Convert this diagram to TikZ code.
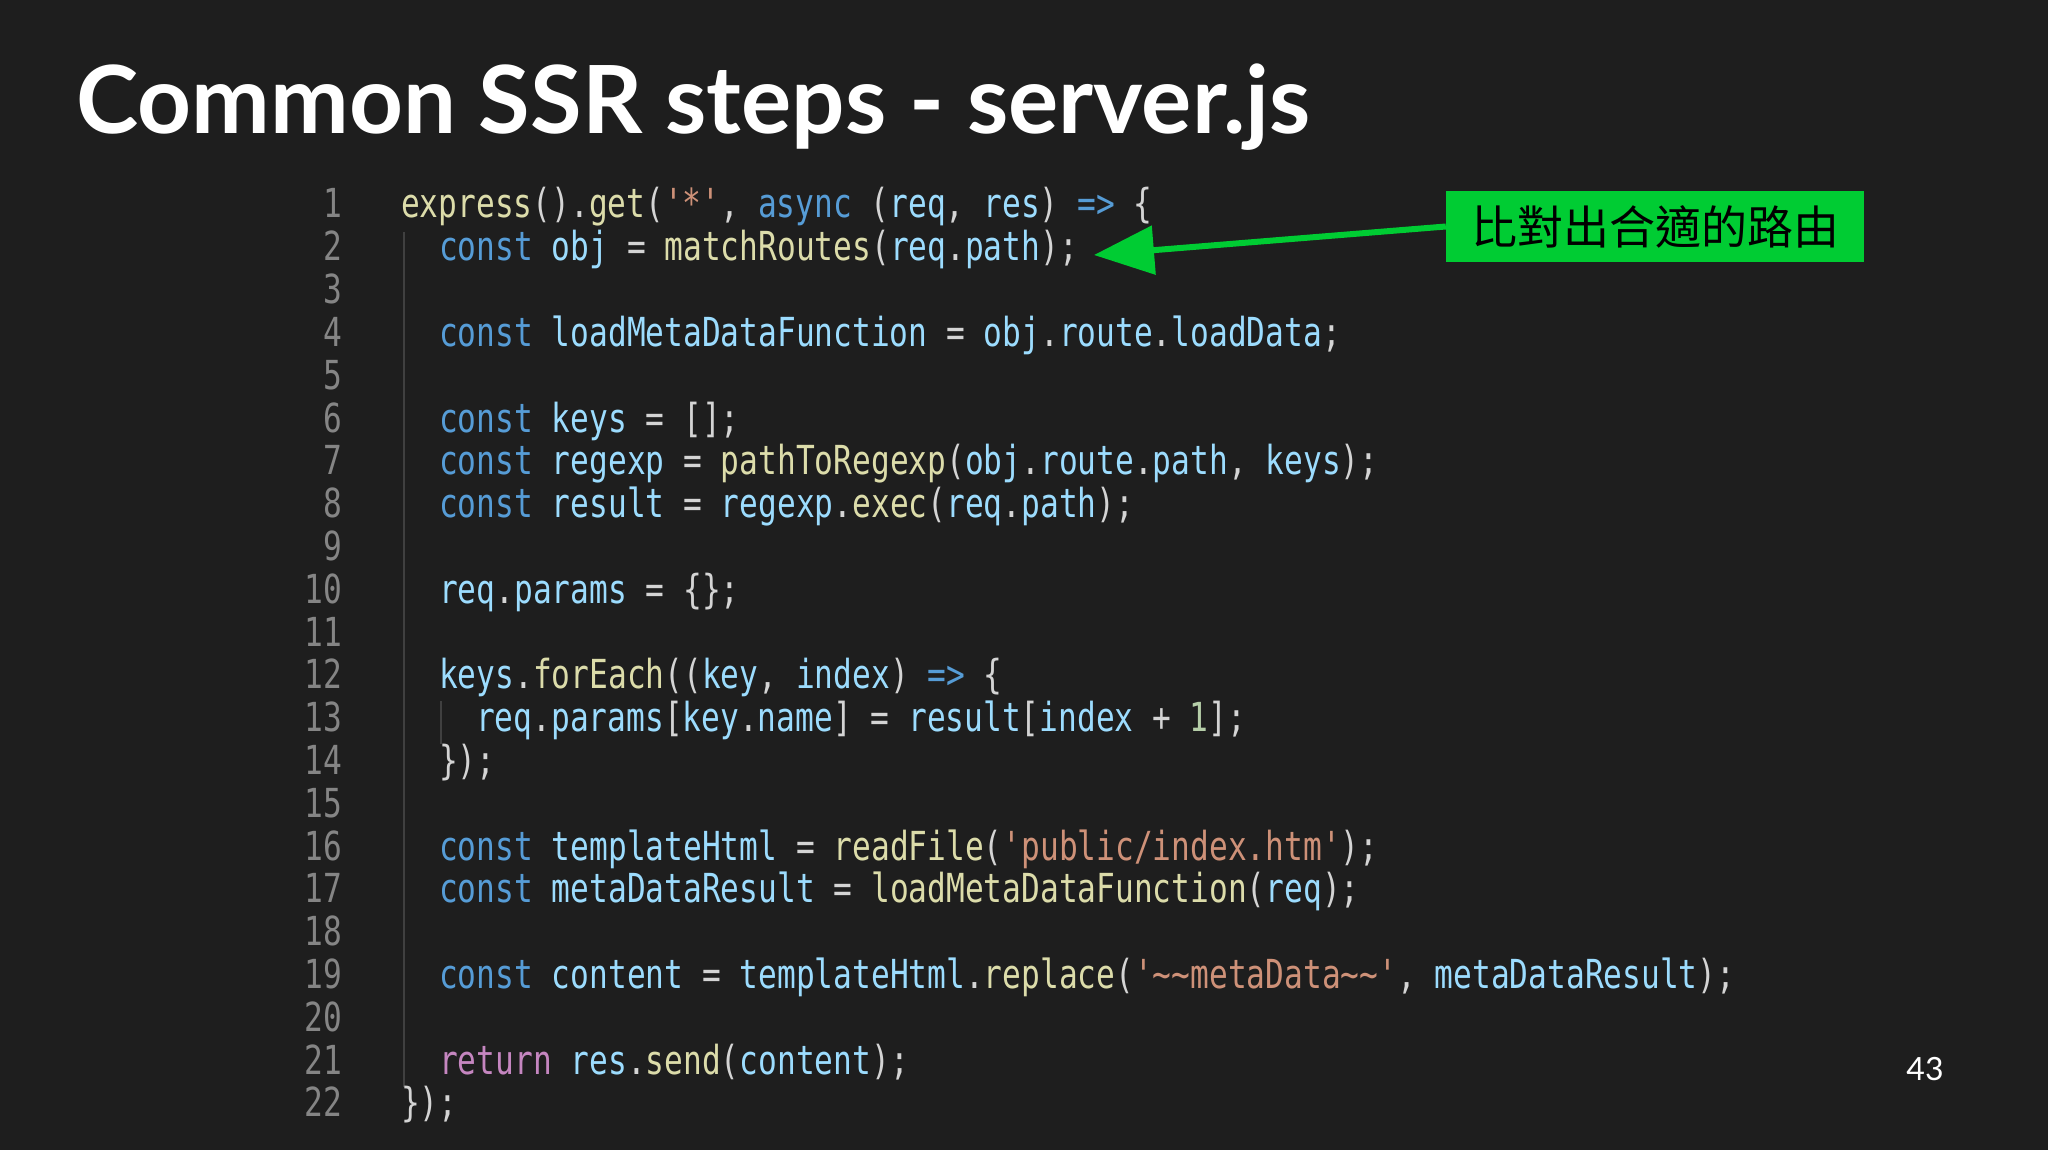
\documentclass[tikz,border=0pt]{standalone}
\usepackage{fontspec}
\usetikzlibrary{arrows.meta}
\setmainfont{Lato}
\newfontfamily\codefont[FakeStretch=0.78]{DejaVu Sans Mono}
\newfontfamily\cjk{Noto Sans CJK TC}
\definecolor{bg}{HTML}{1E1E1E}
\definecolor{cplain}{HTML}{D4D4D4}
\definecolor{ckw}{HTML}{569CD6}
\definecolor{cvar}{HTML}{9CDCFE}
\definecolor{cfn}{HTML}{DCDCAA}
\definecolor{cstr}{HTML}{CE9178}
\definecolor{cret}{HTML}{C586C0}
\definecolor{cnum}{HTML}{B5CEA8}
\definecolor{clno}{HTML}{858585}
\definecolor{cguide}{HTML}{404040}
\definecolor{cgreen}{HTML}{00CC33}
\newcommand\K[1]{\textcolor{ckw}{#1}}
\newcommand\V[1]{\textcolor{cvar}{#1}}
\newcommand\F[1]{\textcolor{cfn}{#1}}
\newcommand\Str[1]{\textcolor{cstr}{#1}}
\newcommand\R[1]{\textcolor{cret}{#1}}
\newcommand\Nm[1]{\textcolor{cnum}{#1}}
\newcommand\tl{\textasciitilde}
\tikzset{
  x=1pt,y=-1pt,
  code/.style={anchor=base west,inner sep=0pt,font=\codefont\fontsize{40}{40}\selectfont,text=cplain},
  lno/.style={anchor=base east,inner sep=0pt,font=\codefont\fontsize{40}{40}\selectfont,text=clno},
  guide/.style={draw=cguide,line width=1.2pt},
}
\begin{document}
\begin{tikzpicture}
\fill[bg] (0,0) rectangle (2048,1150);
\useasboundingbox (0,0) rectangle (2048,1150);
\node[anchor=base west,inner sep=0pt,text=white,font=\bfseries\fontsize{94}{94}\selectfont] (title) at (76,134) {Common SSR steps - server.js};
% indent guides
\draw[guide] (404,232) -- (404,1087);
\draw[guide] (441,701) -- (441,744);
% line numbers
\foreach \i in {1,...,22} {
  \node[lno] (n\i) at (342,{218+(\i-1)*42.8}) {\i};
}
\def\xa{401}\def\xb{439}\def\xc{476}
\node[code] (l1) at (\xa,218) {\F{express}().\F{get}(\Str{'*'}, \K{async} (\V{req}, \V{res}) \K{=>} \{};
\node[code] (l2) at (\xb,260.8) {\K{const} \V{obj} = \F{matchRoutes}(\V{req}.\V{path});};
\node[code] (l4) at (\xb,346.4) {\K{const} \V{loadMetaDataFunction} = \V{obj}.\V{route}.\V{loadData};};
\node[code] (l6) at (\xb,432) {\K{const} \V{keys} = [];};
\node[code] (l7) at (\xb,474.8) {\K{const} \V{regexp} = \F{pathToRegexp}(\V{obj}.\V{route}.\V{path}, \V{keys});};
\node[code] (l8) at (\xb,517.6) {\K{const} \V{result} = \V{regexp}.\F{exec}(\V{req}.\V{path});};
\node[code] (l10) at (\xb,603.2) {\V{req}.\V{params} = \{\};};
\node[code] (l12) at (\xb,688.8) {\V{keys}.\F{forEach}((\V{key}, \V{index}) \K{=>} \{};
\node[code] (l13) at (\xc,731.6) {\V{req}.\V{params}[\V{key}.\V{name}] = \V{result}[\V{index} + \Nm{1}];};
\node[code] (l14) at (\xb,774.4) {\});};
\node[code] (l16) at (\xb,860) {\K{const} \V{templateHtml} = \F{readFile}(\Str{'public/index.htm'});};
\node[code] (l17) at (\xb,902.8) {\K{const} \V{metaDataResult} = \F{loadMetaDataFunction}(\V{req});};
\node[code] (l19) at (\xb,988.4) {\K{const} \V{content} = \V{templateHtml}.\F{replace}(\Str{'\tl\tl metaData\tl\tl'}, \V{metaDataResult});};
\node[code] (l21) at (\xb,1074) {\R{return} \V{res}.\F{send}(\V{content});};
\node[code] (l22) at (\xa,1116.8) {\});};
% annotation
\node[fill=cgreen,minimum width=418,minimum height=71,inner sep=0pt,font=\cjk\fontsize{46}{46}\selectfont,text=black] (note) at (1655,226.5) {比對出合適的路由};
\coordinate (tip) at (1094,255);
\draw[cgreen,line width=6pt,-{Triangle[length=60pt,width=48pt]}] (note.west) -- (tip);
\node[anchor=base,inner sep=0pt,text=white,font=\fontsize{32}{32}\selectfont] (page) at (1925,1080) {43};
\end{tikzpicture}
\end{document}
